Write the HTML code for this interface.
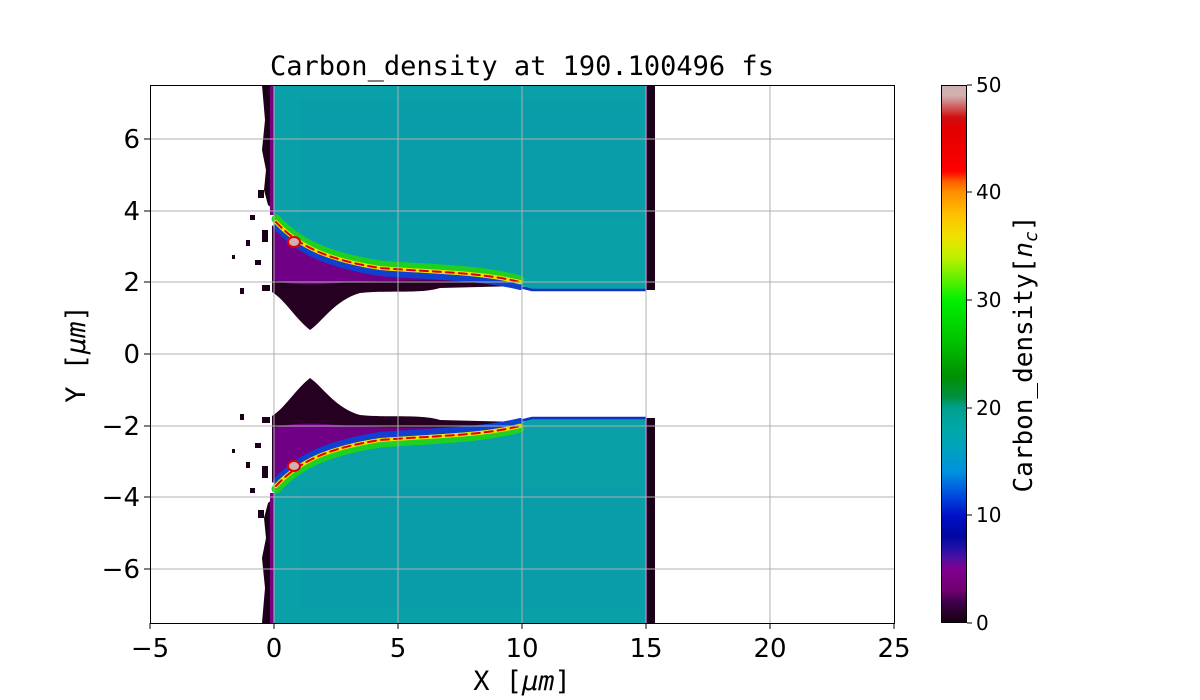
<!DOCTYPE html>
<html><head><meta charset="utf-8"><style>
html,body{margin:0;padding:0;background:#fff;}
svg{display:block;}
text{font-family:"DejaVu Sans","Liberation Sans",sans-serif;fill:#000;}
.m{font-family:"DejaVu Sans Mono","Liberation Mono",monospace;}
</style></head><body>
<svg width="1200" height="700" viewBox="0 0 1200 700" xmlns="http://www.w3.org/2000/svg">
<defs>
<linearGradient id="cb" x1="0" y1="1" x2="0" y2="0">
<stop offset="0" stop-color="#150010"/><stop offset="0.04" stop-color="#40004a"/>
<stop offset="0.06" stop-color="#700070"/><stop offset="0.10" stop-color="#800090"/>
<stop offset="0.12" stop-color="#5010a0"/><stop offset="0.14" stop-color="#2010a8"/>
<stop offset="0.16" stop-color="#0008a0"/><stop offset="0.20" stop-color="#0010c8"/>
<stop offset="0.24" stop-color="#0050e0"/><stop offset="0.28" stop-color="#0090e0"/>
<stop offset="0.32" stop-color="#00a0c0"/><stop offset="0.36" stop-color="#00a8a8"/>
<stop offset="0.40" stop-color="#00a090"/><stop offset="0.42" stop-color="#009040"/>
<stop offset="0.46" stop-color="#009000"/><stop offset="0.52" stop-color="#00c000"/>
<stop offset="0.60" stop-color="#00f000"/><stop offset="0.64" stop-color="#60f000"/>
<stop offset="0.68" stop-color="#c0f000"/><stop offset="0.72" stop-color="#f0e000"/>
<stop offset="0.76" stop-color="#ffc000"/><stop offset="0.80" stop-color="#ff9000"/>
<stop offset="0.82" stop-color="#ff6000"/><stop offset="0.84" stop-color="#ff0000"/>
<stop offset="0.92" stop-color="#e00000"/><stop offset="0.94" stop-color="#d01010"/>
<stop offset="0.96" stop-color="#d06060"/><stop offset="0.98" stop-color="#d0b0b0"/>
<stop offset="1" stop-color="#d0b0b0"/>
</linearGradient>
<clipPath id="pa"><rect x="150" y="85" width="744" height="538"/></clipPath>
<g id="half">
  <path d="M262,85 L274,85 L274,210 L268,205 L264,190 L266,170 L262,150 L265,120 Z" fill="#1a0018"/>
  <rect x="270" y="85" width="5" height="130" fill="#7a0080"/>
  <rect x="646" y="85" width="9" height="205" fill="#1a0018"/>
  <rect x="644" y="85" width="3" height="205" fill="#6a0080"/>
  <path d="M258,190 h6 v8 h-6z M250,215 h5 v5 h-5z M246,240 h4 v6 h-4z M255,260 h6 v5 h-6z M240,288 h4 v6 h-4z M262,285 h8 v6 h-8z M232,255 h3 v4 h-3z M262,230 h6 v12 h-6z" fill="#1a0018"/>
  <path d="M272,225 L272,292 C285,300 295,318 310,330 C322,322 335,300 360,293 C390,290 420,294 440,288 L520,286 L520,280 C470,276 400,272 350,266 C310,258 290,245 272,225 Z" fill="#250020"/>
  <path d="M274,228 L274,280 C290,286 320,285 350,282 C400,280 460,280 520,283 L520,280 C470,276 400,272 350,266 C310,258 290,245 274,228 Z" fill="#700085"/>
  <path d="M274,85 H646 V291 H532 L520,284 C480,276 430,273 380,269 C330,262 300,249 274,222 Z" fill="#0aa0a8"/>
  <rect x="300" y="100" width="340" height="120" fill="#0a98b0" opacity="0.35"/>
  <path d="M520,287 L532,290 H646" stroke="#1030c8" stroke-width="2.5" fill="none"/>
  <g fill="none" stroke-linecap="round">
    <path d="M276,222 C300,248 330,260 380,268 C430,272 480,272 520,282" stroke="#1040d0" stroke-width="6" transform="translate(0,5)"/>
    <path d="M276,219 C300,245 330,257 380,265 C430,269 480,269 520,280" stroke="#20d020" stroke-width="9"/>
    <path d="M276,222 C300,248 330,260 380,268 C430,272 480,272 520,282" stroke="#f0e000" stroke-width="4"/>
    <path d="M276,222 C300,248 330,260 380,268 C430,272 480,272 520,282" stroke="#e00000" stroke-width="2" stroke-dasharray="8 5"/>
  </g>
  <ellipse cx="294" cy="242" rx="6" ry="5" fill="#d0b0b0" stroke="#e00000" stroke-width="2"/>
</g>
</defs>
<g clip-path="url(#pa)">
  <use href="#half"/>
  <use href="#half" transform="translate(0,708) scale(1,-1)"/>
  <g stroke="#b0b0b0" stroke-width="1">
    <line x1="274" y1="85" x2="274" y2="623"/><line x1="398" y1="85" x2="398" y2="623"/>
    <line x1="522" y1="85" x2="522" y2="623"/><line x1="646" y1="85" x2="646" y2="623"/>
    <line x1="770" y1="85" x2="770" y2="623"/>
    <line x1="150" y1="139" x2="894" y2="139"/><line x1="150" y1="211" x2="894" y2="211"/>
    <line x1="150" y1="282" x2="894" y2="282"/><line x1="150" y1="354" x2="894" y2="354"/>
    <line x1="150" y1="426" x2="894" y2="426"/><line x1="150" y1="497" x2="894" y2="497"/>
    <line x1="150" y1="569" x2="894" y2="569"/>
  </g>
</g>
<rect x="150.5" y="85.5" width="744" height="538" fill="none" stroke="#000" stroke-width="1"/>
<g stroke="#000">
  <line x1="150" y1="623" x2="150" y2="629"/><line x1="274" y1="623" x2="274" y2="629"/>
  <line x1="398" y1="623" x2="398" y2="629"/><line x1="522" y1="623" x2="522" y2="629"/>
  <line x1="646" y1="623" x2="646" y2="629"/><line x1="770" y1="623" x2="770" y2="629"/>
  <line x1="894" y1="623" x2="894" y2="629"/>
  <line x1="144" y1="139" x2="150" y2="139"/><line x1="144" y1="211" x2="150" y2="211"/>
  <line x1="144" y1="282" x2="150" y2="282"/><line x1="144" y1="354" x2="150" y2="354"/>
  <line x1="144" y1="426" x2="150" y2="426"/><line x1="144" y1="497" x2="150" y2="497"/>
  <line x1="144" y1="569" x2="150" y2="569"/>
</g>
<g font-size="26" text-anchor="middle">
  <text x="150" y="657">−5</text><text x="274" y="657">0</text><text x="398" y="657">5</text>
  <text x="522" y="657">10</text><text x="646" y="657">15</text><text x="770" y="657">20</text>
  <text x="894" y="657">25</text>
</g>
<g font-size="26" text-anchor="end">
  <text x="140" y="148">6</text><text x="140" y="220">4</text><text x="140" y="291">2</text>
  <text x="140" y="363">0</text><text x="140" y="435">−2</text><text x="140" y="506">−4</text>
  <text x="140" y="578">−6</text>
</g>
<text class="m" x="522" y="75" font-size="27" text-anchor="middle">Carbon_density at 190.100496 fs</text>
<text class="m" x="522" y="690" font-size="27" text-anchor="middle">X [<tspan font-style="italic">μm</tspan>]</text>
<text class="m" transform="translate(85,354) rotate(-90)" font-size="27" text-anchor="middle">Y [<tspan font-style="italic">μm</tspan>]</text>
<rect x="941" y="85" width="26" height="538" fill="url(#cb)"/>
<rect x="941.5" y="85.5" width="25" height="537" fill="none" stroke="#000"/>
<g stroke="#000">
  <line x1="967" y1="623" x2="972" y2="623"/><line x1="967" y1="515" x2="972" y2="515"/>
  <line x1="967" y1="408" x2="972" y2="408"/><line x1="967" y1="300" x2="972" y2="300"/>
  <line x1="967" y1="192" x2="972" y2="192"/><line x1="967" y1="85" x2="972" y2="85"/>
</g>
<g font-size="20">
  <text x="976" y="630">0</text><text x="976" y="522">10</text><text x="976" y="415">20</text>
  <text x="976" y="307">30</text><text x="976" y="199">40</text><text x="976" y="92">50</text>
</g>
<text class="m" transform="translate(1032,354) rotate(-90)" font-size="26" text-anchor="middle">Carbon_density[<tspan font-style="italic">n</tspan><tspan font-style="italic" font-size="18" dy="5">c</tspan><tspan dy="-5">]</tspan></text>
</svg>
</body></html>
